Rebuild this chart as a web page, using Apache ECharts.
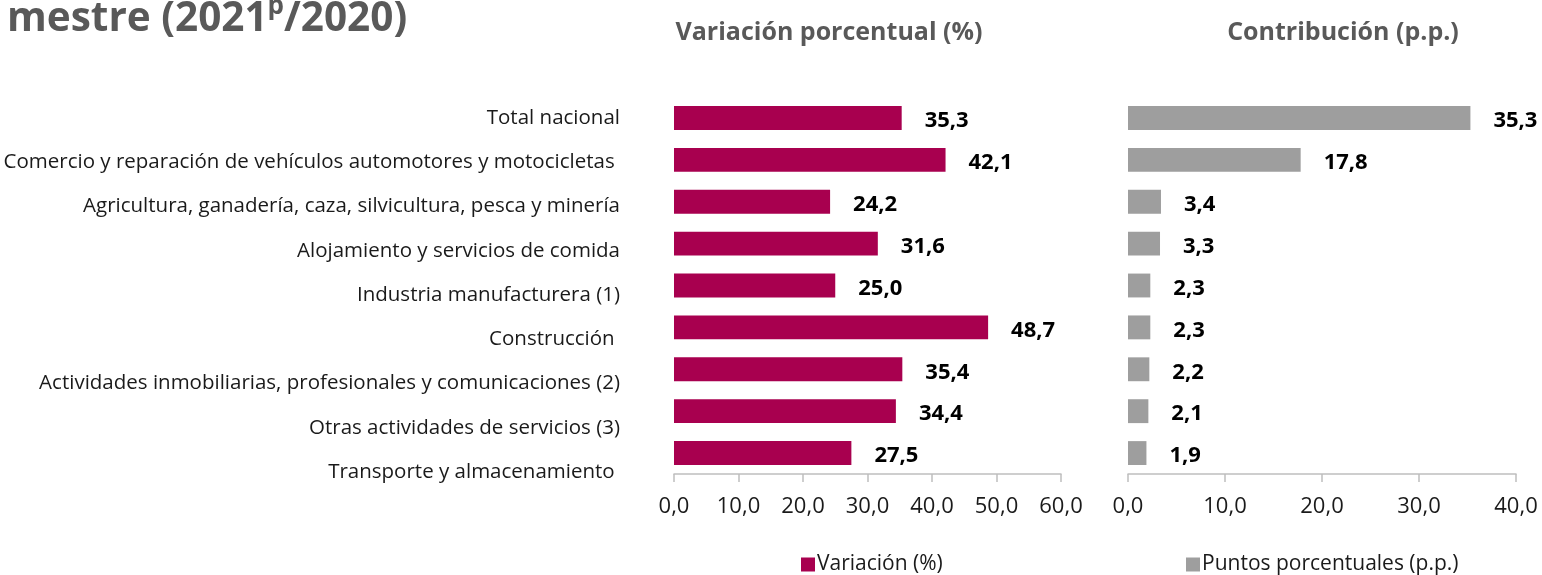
<!DOCTYPE html>
<html>
<head>
<meta charset="utf-8">
<script src="https://cdn.jsdelivr.net/npm/echarts@6/dist/echarts.min.js"></script>
<style>
html,body{margin:0;padding:0;background:#fff;}
#chart{width:1542px;height:575px;}
</style>
</head>
<body>
<div id="chart"></div>
<script>
var categories = [
  'Total nacional',
  'Comercio y reparación de vehículos automotores y motocicletas ',
  'Agricultura, ganadería, caza, silvicultura, pesca y minería',
  'Alojamiento y servicios de comida',
  'Industria manufacturera (1)',
  'Construcción ',
  'Actividades inmobiliarias, profesionales y comunicaciones (2)',
  'Otras actividades de servicios (3)',
  'Transporte y almacenamiento '
];
var variacion = [35.3, 42.1, 24.2, 31.6, 25.0, 48.7, 35.4, 34.4, 27.5];
var contribucion = [35.3, 17.8, 3.4, 3.3, 2.3, 2.3, 2.2, 2.1, 1.9];
var leftTicks = {min: 0, max: 60, interval: 10};
var rightTicks = {min: 0, max: 40, interval: 10};

var FONT = 'Open Sans';
function fmt(v){ return Number(v).toFixed(1).replace('.', ','); }

var chart = echarts.init(document.getElementById('chart'));
var axisLineStyle = {show: true, lineStyle: {color: '#bfbfbf', width: 1.5}};
var tickStyle = {show: true, length: 8, lineStyle: {color: '#bfbfbf', width: 1.5}};
var tickLabel = {color: '#1a1a1a', fontSize: 22, fontFamily: FONT, margin: 22, formatter: fmt};

chart.setOption({
  animation: false,
  textStyle: {fontFamily: FONT},
  title: [
    {text: '{a|mestre (2021}{s|p}{a|/2020)}', left: 2, top: -11,
     textStyle: {rich: {
       a: {fontSize: 40.5, fontWeight: 'bold', color: '#595959', fontFamily: FONT, lineHeight: 50},
       s: {fontSize: 26, fontWeight: 'bold', color: '#595959', fontFamily: FONT, lineHeight: 50, verticalAlign: 'top', padding: [0,0,16,0]}
     }}},
    {text: 'Variación porcentual (%)', left: 824, top: 15, textAlign: 'center',
     textStyle: {fontSize: 25, fontWeight: 'bold', color: '#595959', fontFamily: FONT}},
    {text: 'Contribución (p.p.)', left: 1338, top: 15, textAlign: 'center',
     textStyle: {fontSize: 25, fontWeight: 'bold', color: '#595959', fontFamily: FONT}}
  ],
  legend: [
    {data: ['Variación (%)'], icon: 'rect', left: 796, top: 549, itemWidth: 14, itemHeight: 14, itemGap: 5,
     textStyle: {fontSize: 21, color: '#1a1a1a', fontFamily: FONT, padding: [0,0,0,-3]}},
    {data: ['Puntos porcentuales (p.p.)'], icon: 'rect', left: 1181, top: 549, itemWidth: 14, itemHeight: 14,
     textStyle: {fontSize: 21, color: '#1a1a1a', fontFamily: FONT, padding: [0,0,0,-3]}}
  ],
  grid: [
    {left: 0, width: 620, top: 96, height: 398, containLabel: false},
    {left: 674, width: 387, top: 97, height: 377},
    {left: 1128, width: 388, top: 97, height: 377}
  ],
  xAxis: [
    {gridIndex: 0, type: 'value', show: false, min: 0, max: 1},
    {gridIndex: 1, type: 'value', min: leftTicks.min, max: leftTicks.max, interval: leftTicks.interval,
     axisLine: axisLineStyle, axisTick: tickStyle, splitLine: {show: false}, axisLabel: tickLabel},
    {gridIndex: 2, type: 'value', min: rightTicks.min, max: rightTicks.max, interval: rightTicks.interval,
     axisLine: axisLineStyle, axisTick: tickStyle, splitLine: {show: false}, axisLabel: tickLabel}
  ],
  yAxis: [
    {gridIndex: 0, type: 'category', data: categories, inverse: true, position: 'right',
     axisLine: {show: false}, axisTick: {show: false},
     axisLabel: {inside: true, align: 'right', margin: 0, fontSize: 20.5, color: '#1a1a1a', fontFamily: FONT}},
    {gridIndex: 1, type: 'category', data: categories, inverse: true, show: false},
    {gridIndex: 2, type: 'category', data: categories, inverse: true, show: false}
  ],
  series: [
    {name: 'Variación (%)', type: 'bar', xAxisIndex: 1, yAxisIndex: 1, data: variacion,
     barCategoryGap: '43%', itemStyle: {color: '#A8004F'},
     label: {show: true, position: 'right', distance: 23, offset: [0, 3], formatter: function(p){return fmt(p.value);},
       fontSize: 22, fontWeight: 'bold', color: '#000', fontFamily: FONT}},
    {name: 'Puntos porcentuales (p.p.)', type: 'bar', xAxisIndex: 2, yAxisIndex: 2, data: contribucion,
     barCategoryGap: '43%', itemStyle: {color: '#9E9E9E'},
     label: {show: true, position: 'right', distance: 23, offset: [0, 3], formatter: function(p){return fmt(p.value);},
       fontSize: 22, fontWeight: 'bold', color: '#000', fontFamily: FONT}}
  ]
});
</script>
</body>
</html>
